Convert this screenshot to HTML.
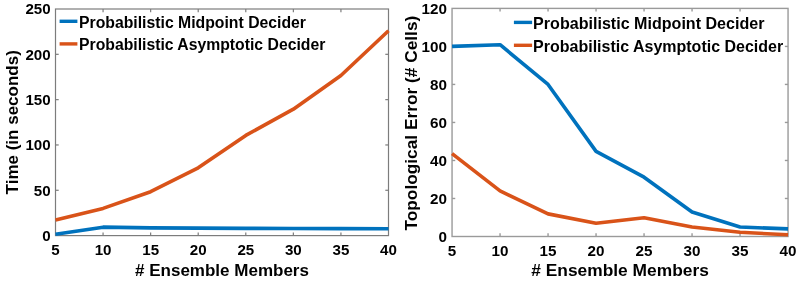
<!DOCTYPE html>
<html><head><meta charset="utf-8"><style>
html,body{margin:0;padding:0;background:#fff;width:800px;height:281px;overflow:hidden}
svg{display:block}
</style></head><body>
<svg width="800" height="281" viewBox="0 0 800 281" font-family="'Liberation Sans', Arial, sans-serif" font-weight="bold" fill="#000">
<rect width="800" height="281" fill="#fff"/>
<rect x="55.5" y="9.0" width="333.00" height="226.60" fill="none" stroke="#7c7c7c" stroke-width="1.2"/>
<line x1="103.07" y1="235.6" x2="103.07" y2="232.4" stroke="#7c7c7c" stroke-width="1.2"/>
<line x1="103.07" y1="9.0" x2="103.07" y2="12.2" stroke="#7c7c7c" stroke-width="1.2"/>
<line x1="150.64" y1="235.6" x2="150.64" y2="232.4" stroke="#7c7c7c" stroke-width="1.2"/>
<line x1="150.64" y1="9.0" x2="150.64" y2="12.2" stroke="#7c7c7c" stroke-width="1.2"/>
<line x1="198.21" y1="235.6" x2="198.21" y2="232.4" stroke="#7c7c7c" stroke-width="1.2"/>
<line x1="198.21" y1="9.0" x2="198.21" y2="12.2" stroke="#7c7c7c" stroke-width="1.2"/>
<line x1="245.79" y1="235.6" x2="245.79" y2="232.4" stroke="#7c7c7c" stroke-width="1.2"/>
<line x1="245.79" y1="9.0" x2="245.79" y2="12.2" stroke="#7c7c7c" stroke-width="1.2"/>
<line x1="293.36" y1="235.6" x2="293.36" y2="232.4" stroke="#7c7c7c" stroke-width="1.2"/>
<line x1="293.36" y1="9.0" x2="293.36" y2="12.2" stroke="#7c7c7c" stroke-width="1.2"/>
<line x1="340.93" y1="235.6" x2="340.93" y2="232.4" stroke="#7c7c7c" stroke-width="1.2"/>
<line x1="340.93" y1="9.0" x2="340.93" y2="12.2" stroke="#7c7c7c" stroke-width="1.2"/>
<line x1="55.5" y1="190.28" x2="58.7" y2="190.28" stroke="#7c7c7c" stroke-width="1.2"/>
<line x1="388.5" y1="190.28" x2="385.3" y2="190.28" stroke="#7c7c7c" stroke-width="1.2"/>
<line x1="55.5" y1="144.96" x2="58.7" y2="144.96" stroke="#7c7c7c" stroke-width="1.2"/>
<line x1="388.5" y1="144.96" x2="385.3" y2="144.96" stroke="#7c7c7c" stroke-width="1.2"/>
<line x1="55.5" y1="99.64" x2="58.7" y2="99.64" stroke="#7c7c7c" stroke-width="1.2"/>
<line x1="388.5" y1="99.64" x2="385.3" y2="99.64" stroke="#7c7c7c" stroke-width="1.2"/>
<line x1="55.5" y1="54.32" x2="58.7" y2="54.32" stroke="#7c7c7c" stroke-width="1.2"/>
<line x1="388.5" y1="54.32" x2="385.3" y2="54.32" stroke="#7c7c7c" stroke-width="1.2"/>
<polyline points="55.50,219.92 103.07,208.41 150.64,191.73 198.21,167.80 245.79,135.44 293.36,109.16 340.93,75.53 388.50,30.75" fill="none" stroke="#D95319" stroke-width="3.6" stroke-linejoin="round" stroke-linecap="butt"/>
<polyline points="55.50,234.24 103.07,227.17 150.64,227.90 198.21,228.17 245.79,228.35 293.36,228.53 340.93,228.62 388.50,228.71" fill="none" stroke="#0072BD" stroke-width="3.6" stroke-linejoin="round" stroke-linecap="butt"/>
<text transform="translate(55.50,255.2) scale(1.015,1)" font-size="14.9" text-anchor="middle">5</text>
<text transform="translate(103.07,255.2) scale(1.015,1)" font-size="14.9" text-anchor="middle">10</text>
<text transform="translate(150.64,255.2) scale(1.015,1)" font-size="14.9" text-anchor="middle">15</text>
<text transform="translate(198.21,255.2) scale(1.015,1)" font-size="14.9" text-anchor="middle">20</text>
<text transform="translate(245.79,255.2) scale(1.015,1)" font-size="14.9" text-anchor="middle">25</text>
<text transform="translate(293.36,255.2) scale(1.015,1)" font-size="14.9" text-anchor="middle">30</text>
<text transform="translate(340.93,255.2) scale(1.015,1)" font-size="14.9" text-anchor="middle">35</text>
<text transform="translate(388.50,255.2) scale(1.015,1)" font-size="14.9" text-anchor="middle">40</text>
<text transform="translate(50.6,240.96) scale(1.015,1)" font-size="14.9" text-anchor="end">0</text>
<text transform="translate(50.6,195.64) scale(1.015,1)" font-size="14.9" text-anchor="end">50</text>
<text transform="translate(50.6,150.32) scale(1.015,1)" font-size="14.9" text-anchor="end">100</text>
<text transform="translate(50.6,105.00) scale(1.015,1)" font-size="14.9" text-anchor="end">150</text>
<text transform="translate(50.6,59.68) scale(1.015,1)" font-size="14.9" text-anchor="end">200</text>
<text transform="translate(50.6,14.36) scale(1.015,1)" font-size="14.9" text-anchor="end">250</text>
<text x="222.00" y="276.2" font-size="17" text-anchor="middle"># Ensemble Members</text>
<text transform="translate(18.0,122.3) rotate(-90)" x="0" y="0" font-size="17" text-anchor="middle">Time (in seconds)</text>
<line x1="59.6" y1="21.3" x2="77.4" y2="21.3" stroke="#0072BD" stroke-width="3.4"/>
<text x="79" y="27.6" font-size="15.6" textLength="227" lengthAdjust="spacingAndGlyphs" fill="#000">Probabilistic Midpoint Decider</text>
<line x1="59.6" y1="43.9" x2="77.4" y2="43.9" stroke="#D95319" stroke-width="3.4"/>
<text x="79" y="49.9" font-size="15.6" textLength="246.3" lengthAdjust="spacingAndGlyphs" fill="#000">Probabilistic Asymptotic Decider</text>
<rect x="452.05" y="8.4" width="336.00" height="228.10" fill="none" stroke="#9a9a9a" stroke-width="1.4"/>
<line x1="500.05" y1="236.5" x2="500.05" y2="233.3" stroke="#9a9a9a" stroke-width="1.4"/>
<line x1="500.05" y1="8.4" x2="500.05" y2="11.600000000000001" stroke="#9a9a9a" stroke-width="1.4"/>
<line x1="548.05" y1="236.5" x2="548.05" y2="233.3" stroke="#9a9a9a" stroke-width="1.4"/>
<line x1="548.05" y1="8.4" x2="548.05" y2="11.600000000000001" stroke="#9a9a9a" stroke-width="1.4"/>
<line x1="596.05" y1="236.5" x2="596.05" y2="233.3" stroke="#9a9a9a" stroke-width="1.4"/>
<line x1="596.05" y1="8.4" x2="596.05" y2="11.600000000000001" stroke="#9a9a9a" stroke-width="1.4"/>
<line x1="644.05" y1="236.5" x2="644.05" y2="233.3" stroke="#9a9a9a" stroke-width="1.4"/>
<line x1="644.05" y1="8.4" x2="644.05" y2="11.600000000000001" stroke="#9a9a9a" stroke-width="1.4"/>
<line x1="692.05" y1="236.5" x2="692.05" y2="233.3" stroke="#9a9a9a" stroke-width="1.4"/>
<line x1="692.05" y1="8.4" x2="692.05" y2="11.600000000000001" stroke="#9a9a9a" stroke-width="1.4"/>
<line x1="740.05" y1="236.5" x2="740.05" y2="233.3" stroke="#9a9a9a" stroke-width="1.4"/>
<line x1="740.05" y1="8.4" x2="740.05" y2="11.600000000000001" stroke="#9a9a9a" stroke-width="1.4"/>
<line x1="452.05" y1="198.48" x2="455.25" y2="198.48" stroke="#9a9a9a" stroke-width="1.4"/>
<line x1="788.05" y1="198.48" x2="784.8499999999999" y2="198.48" stroke="#9a9a9a" stroke-width="1.4"/>
<line x1="452.05" y1="160.47" x2="455.25" y2="160.47" stroke="#9a9a9a" stroke-width="1.4"/>
<line x1="788.05" y1="160.47" x2="784.8499999999999" y2="160.47" stroke="#9a9a9a" stroke-width="1.4"/>
<line x1="452.05" y1="122.45" x2="455.25" y2="122.45" stroke="#9a9a9a" stroke-width="1.4"/>
<line x1="788.05" y1="122.45" x2="784.8499999999999" y2="122.45" stroke="#9a9a9a" stroke-width="1.4"/>
<line x1="452.05" y1="84.43" x2="455.25" y2="84.43" stroke="#9a9a9a" stroke-width="1.4"/>
<line x1="788.05" y1="84.43" x2="784.8499999999999" y2="84.43" stroke="#9a9a9a" stroke-width="1.4"/>
<line x1="452.05" y1="46.42" x2="455.25" y2="46.42" stroke="#9a9a9a" stroke-width="1.4"/>
<line x1="788.05" y1="46.42" x2="784.8499999999999" y2="46.42" stroke="#9a9a9a" stroke-width="1.4"/>
<polyline points="452.05,153.62 500.05,190.88 548.05,213.88 596.05,223.19 644.05,217.68 692.05,227.00 740.05,232.32 788.05,234.79" fill="none" stroke="#D95319" stroke-width="3.6" stroke-linejoin="round" stroke-linecap="butt"/>
<polyline points="452.05,46.42 500.05,44.71 548.05,84.43 596.05,151.34 644.05,177.19 692.05,211.98 740.05,227.00 788.05,228.90" fill="none" stroke="#0072BD" stroke-width="3.6" stroke-linejoin="round" stroke-linecap="butt"/>
<text transform="translate(452.05,256.4) scale(1.015,1)" font-size="15.0" text-anchor="middle">5</text>
<text transform="translate(500.05,256.4) scale(1.015,1)" font-size="15.0" text-anchor="middle">10</text>
<text transform="translate(548.05,256.4) scale(1.015,1)" font-size="15.0" text-anchor="middle">15</text>
<text transform="translate(596.05,256.4) scale(1.015,1)" font-size="15.0" text-anchor="middle">20</text>
<text transform="translate(644.05,256.4) scale(1.015,1)" font-size="15.0" text-anchor="middle">25</text>
<text transform="translate(692.05,256.4) scale(1.015,1)" font-size="15.0" text-anchor="middle">30</text>
<text transform="translate(740.05,256.4) scale(1.015,1)" font-size="15.0" text-anchor="middle">35</text>
<text transform="translate(788.05,256.4) scale(1.015,1)" font-size="15.0" text-anchor="middle">40</text>
<text transform="translate(447.0,241.90) scale(1.015,1)" font-size="15.0" text-anchor="end">0</text>
<text transform="translate(447.0,203.88) scale(1.015,1)" font-size="15.0" text-anchor="end">20</text>
<text transform="translate(447.0,165.87) scale(1.015,1)" font-size="15.0" text-anchor="end">40</text>
<text transform="translate(447.0,127.85) scale(1.015,1)" font-size="15.0" text-anchor="end">60</text>
<text transform="translate(447.0,89.83) scale(1.015,1)" font-size="15.0" text-anchor="end">80</text>
<text transform="translate(447.0,51.82) scale(1.015,1)" font-size="15.0" text-anchor="end">100</text>
<text transform="translate(447.0,13.80) scale(1.015,1)" font-size="15.0" text-anchor="end">120</text>
<text x="620.05" y="275.5" font-size="17" text-anchor="middle" textLength="177.5" lengthAdjust="spacingAndGlyphs"># Ensemble Members</text>
<text transform="translate(416.9,123.15) rotate(-90)" x="0" y="0" font-size="17.3" text-anchor="middle" textLength="214.8" lengthAdjust="spacingAndGlyphs">Topological Error (# Cells)</text>
<line x1="513.9" y1="22.4" x2="532.1" y2="22.4" stroke="#0072BD" stroke-width="3.4"/>
<text x="533.1" y="28.8" font-size="15.9" textLength="231.4" lengthAdjust="spacingAndGlyphs" fill="#000">Probabilistic Midpoint Decider</text>
<line x1="513.9" y1="45.3" x2="532.1" y2="45.3" stroke="#D95319" stroke-width="3.4"/>
<text x="533.1" y="52.1" font-size="15.9" textLength="250.1" lengthAdjust="spacingAndGlyphs" fill="#000">Probabilistic Asymptotic Decider</text>
</svg>
</body></html>
